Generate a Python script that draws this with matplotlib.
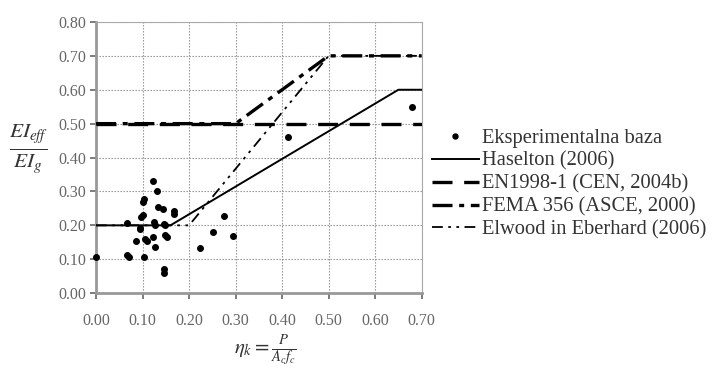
import matplotlib
matplotlib.use("Agg")
import matplotlib.pyplot as plt
import numpy as np

plt.rcParams.update({
    "font.family": "Liberation Serif",
    "mathtext.fontset": "stix",
})

# ── data ─────────────────────────────────────────────────────────────────────
exp_x = [0.000, 0.066, 0.067, 0.070, 0.086, 0.094, 0.094, 0.096, 0.100,
         0.100, 0.103, 0.103, 0.105, 0.109, 0.122, 0.122, 0.131, 0.127,
         0.124, 0.126, 0.133, 0.144, 0.146, 0.148, 0.148, 0.152, 0.146,
         0.146, 0.167, 0.167, 0.223, 0.252, 0.275, 0.294, 0.412, 0.680]
exp_y = [0.107, 0.206, 0.113, 0.108, 0.154, 0.188, 0.193, 0.226, 0.231,
         0.270, 0.279, 0.107, 0.160, 0.153, 0.332, 0.165, 0.300, 0.136,
         0.210, 0.202, 0.253, 0.247, 0.205, 0.200, 0.172, 0.165, 0.072,
         0.058, 0.241, 0.234, 0.133, 0.180, 0.227, 0.170, 0.460, 0.550]

haselton_x = [0.00, 0.16, 0.65, 0.70]
haselton_y = [0.20, 0.20, 0.60, 0.60]

en1998_x = [0.00, 0.70]
en1998_y = [0.50, 0.50]

fema_x = [0.00, 0.30, 0.50, 0.70]
fema_y = [0.50, 0.50, 0.70, 0.70]

elwood_x = [0.00, 0.20, 0.50, 0.70]
elwood_y = [0.20, 0.20, 0.70, 0.70]

labels = ["Eksperimentalna baza", "Haselton (2006)", "EN1998-1 (CEN, 2004b)",
          "FEMA 356 (ASCE, 2000)", "Elwood in Eberhard (2006)"]

# ── figure ───────────────────────────────────────────────────────────────────
fig = plt.figure(figsize=(7.22, 3.72), dpi=100)
ax = fig.add_axes([0.133, 0.212, 0.451, 0.729])

h_exp, = ax.plot(exp_x, exp_y, "o", color="black", ms=4.0, zorder=5,
                 clip_on=False)
h_has, = ax.plot(haselton_x, haselton_y, color="black", lw=1.4, zorder=4)
h_en, = ax.plot(en1998_x, en1998_y, color="black", lw=2.4,
                dashes=(6, 3.5), zorder=3)
h_fema, = ax.plot(fema_x, fema_y, color="black", lw=2.4,
                  dashes=(6, 2, 1.5, 2), zorder=3)
h_elw, = ax.plot(elwood_x, elwood_y, color="black", lw=1.3,
                 dashes=(6, 3, 1.5, 3, 1.5, 3), zorder=3)

ax.set_xlim(0, 0.70)
ax.set_ylim(0, 0.80)
ax.set_xticks(np.arange(0, 0.71, 0.1))
ax.set_yticks(np.arange(0, 0.81, 0.1))
ax.set_xticklabels([f"{v:.2f}" for v in np.arange(0, 0.71, 0.1)])
ax.set_yticklabels([f"{v:.2f}" for v in np.arange(0, 0.81, 0.1)])
ax.grid(True, color="#8a8a8a", linestyle=(0, (1.2, 1.5)), lw=0.8)
ax.tick_params(colors="#666666", labelsize=11.5, length=4, width=1.2,
               direction="out", pad=3)
ax.tick_params(axis="x", pad=10)
for side in ("left", "bottom"):
    ax.spines[side].set_color("#999999")
    ax.spines[side].set_linewidth(2.0)
for side in ("top", "right"):
    ax.spines[side].set_color("#aaaaaa")
    ax.spines[side].set_linewidth(0.8)

fig.text(0.040, 0.600, r"$\frac{EI_{eff}}{EI_g}$", fontsize=22,
         ha="center", va="center", color="#333333")
fig.text(0.367, 0.058, r"$\eta_k=\frac{P}{A_c f_c}$", fontsize=15,
         ha="center", va="center", color="#333333")

fig.legend([h_exp, h_has, h_en, h_fema, h_elw], labels,
           loc="center left", bbox_to_anchor=(0.598, 0.505),
           frameon=False, fontsize=14.8, handlelength=2.3, handletextpad=0.15,
           labelspacing=0.17, markerscale=0.9, borderpad=0, borderaxespad=0,
           labelcolor="#333333")

fig.savefig("out.png", dpi=100, facecolor="white")
